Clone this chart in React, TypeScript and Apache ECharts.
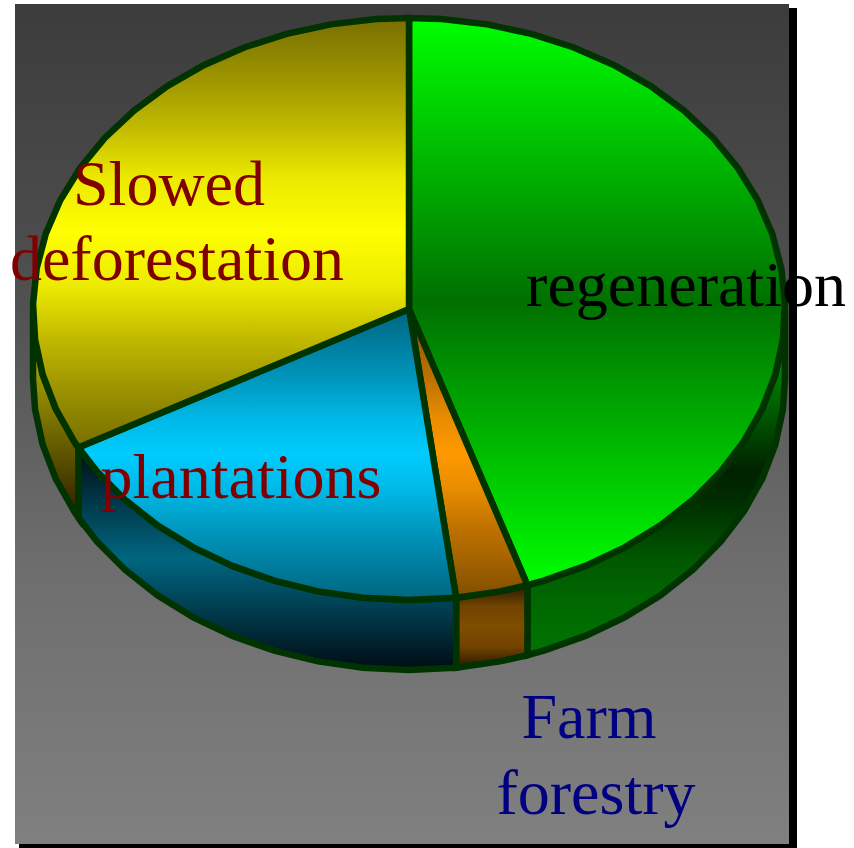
import React, { useEffect, useRef } from "react";
import * as echarts from "echarts";

const categories = ["regeneration", "Farm forestry", "plantations", "Slowed deforestation"];
const shares = [44.9, 3.1, 19.1, 32.9];

type Stop = [number, string];
const topStops: Stop[][] = [
  [[0, "#00ff00"], [0.5, "#007000"], [1, "#00ff00"]],
  [[0, "#804d00"], [0.125, "#a36200"], [0.25, "#c07300"], [0.375, "#e88c00"], [0.5, "#ff9900"], [0.625, "#e88c00"], [0.75, "#c07300"], [0.875, "#a36200"], [1, "#804d00"]],
  [[0, "#006680"], [0.125, "#007ea0"], [0.25, "#0099c0"], [0.375, "#00b8e6"], [0.5, "#00ccff"], [0.625, "#00b8e6"], [0.75, "#0099c0"], [0.875, "#007ea0"], [1, "#006680"]],
  [[0, "#786f00"], [0.125, "#989000"], [0.25, "#c0b800"], [0.375, "#ecea00"], [0.5, "#ffff00"], [0.625, "#ecea00"], [0.75, "#c0b800"], [0.875, "#989000"], [1, "#786f00"]],
];
const sideStops: Stop[][] = [
  [[0, "#00a000"], [0.19, "#007a00"], [0.33, "#005000"], [0.465, "#002200"], [0.55, "#002c00"], [0.725, "#005800"], [0.84, "#006800"], [1, "#007400"]],
  [[0, "#2a1800"], [0.25, "#704300"], [0.5, "#804d00"], [0.75, "#704300"], [1, "#2a1800"]],
  [[0, "#000c14"], [0.5, "#006680"], [1, "#000c14"]],
  [[0, "#d0c800"], [0.5, "#807800"], [1, "#2a1c00"]],
];

const labelLines = [
  { text: "regeneration", x: 686, y: 284, fill: "#000000" },
  { text: "Farm", x: 589, y: 716, fill: "#000080" },
  { text: "forestry", x: 596, y: 792, fill: "#000080" },
  { text: "plantations", x: 241, y: 476, fill: "#800000" },
  { text: "Slowed", x: 169, y: 183, fill: "#800000" },
  { text: "deforestation", x: 177, y: 258, fill: "#800000" },
];

const CX = 409, CY = 309, RX = 376, RY = 291, DEPTH = 70;
const OUTLINE = "#003300";
const LW = 6.5;
const FONT = "64px 'Liberation Serif'";
const STEP = 7, STEP0 = 5;

const rad = (d: number) => (d * Math.PI) / 180;
const pt = (t: number, dy = 0): number[] => [
  CX + RX * Math.sin(rad(t)),
  CY - RY * Math.cos(rad(t)) + dy,
];

function arcAngles(a: number, b: number): number[] {
  const out = [a];
  for (let t = STEP0; t < 360; t += STEP) if (t > a + 0.8 && t < b - 0.8) out.push(t);
  out.push(b);
  return out;
}

const grad = (stops: Stop[]) =>
  new echarts.graphic.LinearGradient(0, 0, 0, 1, stops.map(([offset, color]) => ({ offset, color })));

const total = shares.reduce((s, v) => s + v, 0);

function renderSlice(params: any, api: any) {
  const i = params.dataIndex;
  let before = 0;
  for (let k = 0; k < i; k++) before += shares[k];
  const a = (before / total) * 360;
  const b = a + (api.value(1) / total) * 360;
  const angs = arcAngles(a, b);
  const children: any[] = [];

  const sa = Math.max(a, 90);
  const sb = Math.min(b, 270);
  if (sb > sa) {
    const s = arcAngles(sa, sb);
    const pts = [...s.map((t) => pt(t)), ...s.slice().reverse().map((t) => pt(t, DEPTH))];
    children.push({
      type: "polygon",
      z2: 1,
      shape: { points: pts },
      style: { fill: grad(sideStops[i]), stroke: OUTLINE, lineWidth: LW, lineJoin: "miter" },
    });
  }
  children.push({
    type: "polygon",
    z2: 2,
    shape: { points: [[CX, CY], ...angs.map((t) => pt(t))] },
    style: { fill: grad(topStops[i]), stroke: OUTLINE, lineWidth: LW, lineJoin: "miter" },
  });
  return { type: "group", children };
}

export default function App() {
  const ref = useRef<HTMLDivElement>(null);
  useEffect(() => {
    const chart = echarts.init(ref.current!, null, { renderer: "svg" });
    chart.setOption({
      animation: false,
      backgroundColor: "#ffffff",
      graphic: [
        { type: "rect", z: -2, shape: { x: 19, y: 8, width: 778, height: 840 }, style: { fill: "#000000" } },
        {
          type: "rect",
          z: -1,
          shape: { x: 15, y: 4, width: 774, height: 840 },
          style: {
            fill: new echarts.graphic.LinearGradient(0, 0, 0, 1, [
              { offset: 0, color: "#3c3c3c" },
              { offset: 0.33, color: "#4f4f4f" },
              { offset: 0.66, color: "#6d6d6d" },
              { offset: 1, color: "#808080" },
            ]),
          },
        },
        ...labelLines.map((l) => ({
          type: "text",
          z: 20,
          x: l.x,
          y: l.y,
          style: { text: l.text, fill: l.fill, font: FONT, textAlign: "center", textVerticalAlign: "middle" },
        })),
      ],
      series: [
        {
          type: "custom",
          coordinateSystem: "none",
          silent: true,
          clip: false,
          z: 5,
          data: categories.map((c, i) => [c, shares[i]]),
          renderItem: renderSlice,
        },
      ],
    });
    return () => chart.dispose();
  }, []);
  return <div ref={ref} style={{ position: "fixed", left: 0, top: 0, width: 854, height: 848 }} />;
}
